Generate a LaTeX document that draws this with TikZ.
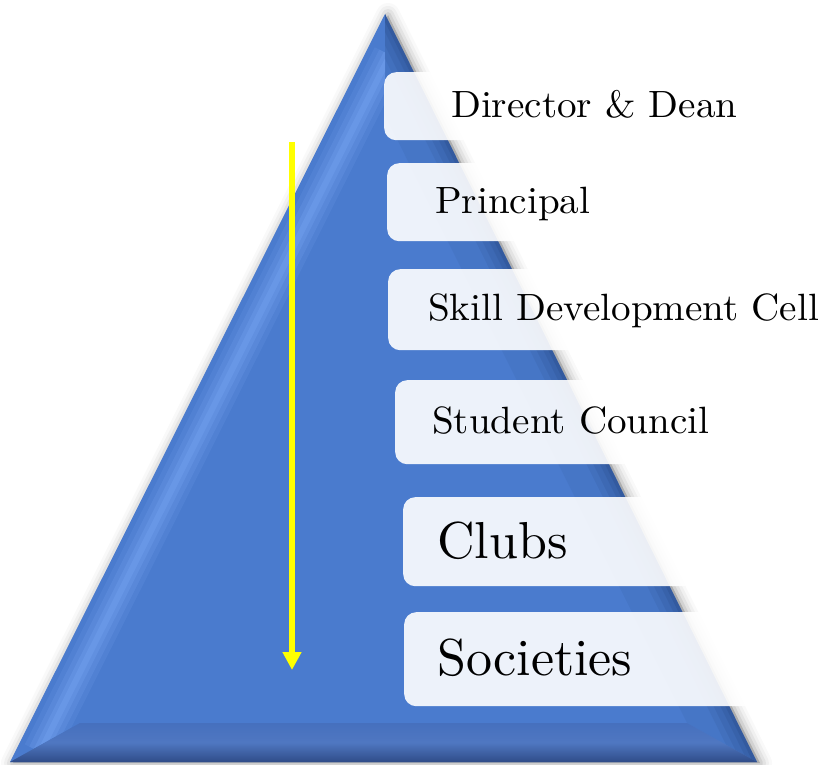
\documentclass[tikz,border=0pt]{standalone}
\usepackage{fontspec}
\setmainfont{lmroman10-regular.otf}
\usetikzlibrary{arrows.meta}
\definecolor{pyrblue}{HTML}{4A7BCE}
\definecolor{pyrhl}{HTML}{7AA8F5}
\definecolor{pyrdark}{HTML}{1F3C73}
\definecolor{bottop}{HTML}{4670BE}
\definecolor{botbot}{HTML}{2F4C88}
\definecolor{arrowyellow}{HTML}{FFFF00}
\tikzset{
  lbox/.style={rectangle, rounded corners=12pt, fill=white, fill opacity=0.9, draw=none, anchor=north west, inner sep=0pt},
  lbl/.style={anchor=base west, inner sep=0pt, text=black},
  smalltxt/.style={lbl, xscale=1.03, font=\fontsize{38}{40}\selectfont},
  bigtxt/.style={lbl, font=\fontsize{52}{54}\selectfont},
  downarrow/.style={draw=arrowyellow, line width=6pt, -{Triangle[width=18pt,length=18pt]}}
}
\begin{document}
\begin{tikzpicture}[x=1pt,y=-1pt]
\useasboundingbox (0,0) rectangle (830,765);
\fill[white] (0,0) rectangle (830,765);
% outer and inner (bevel) triangles
\coordinate (A) at (385,14);
\coordinate (B) at (10,762);
\coordinate (C) at (757,762);
\coordinate (a) at (385,115);
\coordinate (b) at (80,723);
\coordinate (c) at (687,723);
% soft drop shadow
\foreach \w/\o in {24/0.025,18/0.035,12/0.05,6/0.07}{
  \draw[draw=black, draw opacity=\o, line width=\w pt, line join=round, fill=black, fill opacity=\o]
    ([shift={(3,1)}]A) -- ([shift={(3,1)}]B) -- ([shift={(3,1)}]C) -- cycle;
}
% body
\fill[pyrblue] (A) -- (B) -- (C) -- cycle;
% left bevel highlight
\begin{scope}
  \clip (A) -- (B) -- (b) -- (a) -- cycle;
  \coordinate (h1) at (390,55);
  \coordinate (h2) at (40,752);
  \foreach \w/\o in {34/0.15,24/0.2,14/0.25,6/0.3}{
    \draw[pyrhl, line width=\w pt, opacity=\o] (h1) -- (h2);
  }
\end{scope}
% right bevel
\begin{scope}
  \clip (A) -- (a) -- (c) -- (C) -- cycle;
  \fill[pyrdark, opacity=0.08] (A) -- (a) -- (c) -- (C) -- cycle;
  \foreach \w/\o in {40/0.1,28/0.12,16/0.15,7/0.2}{
    \draw[pyrdark, line width=\w pt, opacity=\o] (A) -- (C);
  }
\end{scope}
% bottom bevel
\shade[top color=bottop, bottom color=botbot, middle color=bottop!95!white] (b) -- (B) -- (C) -- (c) -- cycle;
% arrow
\coordinate (ar1) at (292,142);
\coordinate (ar2) at (292,670);
\draw[downarrow] (ar1) -- (ar2);
% label boxes
\node[lbox, minimum width=420pt, minimum height=68pt] (b1) at (384,72) {};
\node[lbox, minimum width=420pt, minimum height=78pt] (b2) at (387,163) {};
\node[lbox, minimum width=420pt, minimum height=81pt] (b3) at (388,269) {};
\node[lbox, minimum width=420pt, minimum height=84pt] (b4) at (395,380) {};
\node[lbox, minimum width=420pt, minimum height=89pt] (b5) at (403,497) {};
\node[lbox, minimum width=420pt, minimum height=94pt] (b6) at (404,612) {};
% texts
\node[smalltxt] (t1) at (451,118) {Director \& Dean};
\node[smalltxt] (t2) at (435,213) {Principal};
\node[smalltxt] (t3) at (428,320) {Skill Development Cell};
\node[smalltxt] (t4) at (432,433) {Student Council};
\node[bigtxt] (t5) at (437,558) {Clubs};
\node[bigtxt] (t6) at (437,675) {Societies};
\end{tikzpicture}
\end{document}
